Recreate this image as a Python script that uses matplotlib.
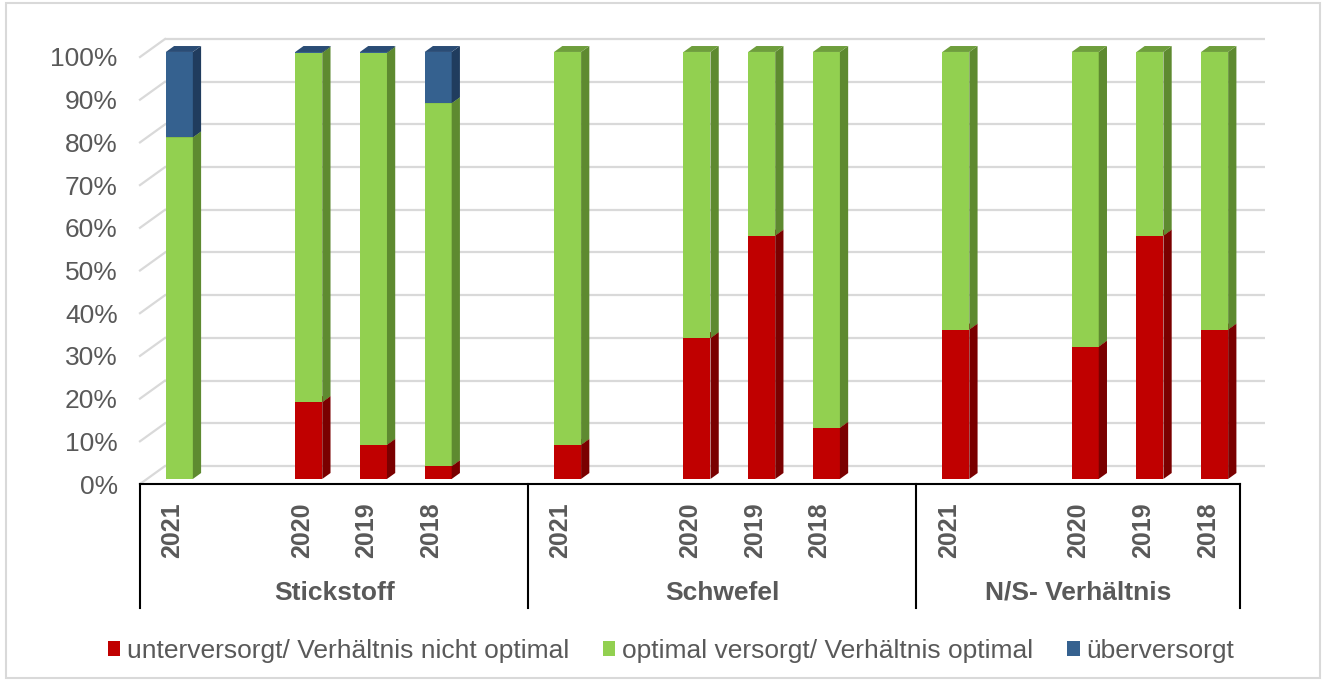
import matplotlib
matplotlib.use("Agg")
import matplotlib.pyplot as plt
from matplotlib.patches import Rectangle, Polygon, Patch

plt.rcParams['font.family'] = ['Liberation Sans', 'DejaVu Sans']

# ---- data ----
groups = ['Stickstoff', 'Schwefel', 'N/S- Verhältnis']
years = ['2021', '2020', '2019', '2018']
year_slots = [0, 2, 3, 4]          # slot index of each year inside a group (slot 1 empty)
series_names = ['unterversorgt/ Verhältnis nicht optimal',
                'optimal versorgt/ Verhältnis optimal',
                'überversorgt']
unterversorgt = [[0, 18, 8, 3], [8, 33, 57, 12], [35, 31, 57, 35]]
optimal = [[80, 81.8, 91.8, 85], [92, 67, 43, 88], [65, 69, 43, 65]]
ueberversorgt = [[20, 0.2, 0.2, 12], [0, 0, 0, 0], [0, 0, 0, 0]]
yticks = list(range(0, 101, 10))

front_cols = ['#C00000', '#92D050', '#35618F']
side_cols = ['#7A0000', '#5E8A30', '#203C5E']
top_cols = ['#9A0000', '#6E9E3C', '#2A4C75']
text_col = '#595959'

W, H = 1324, 680
fig = plt.figure(figsize=(W / 100, H / 100), dpi=100)
x0, x1, y0, y1 = 140, 1240, 484, 57
ax = fig.add_axes([x0 / W, 1 - y0 / H, (x1 - x0) / W, (y0 - y1) / H])
nslots = 17
ax.set_xlim(0, nslots)
ax.set_ylim(0, 100)
pxx = (x1 - x0) / nslots
pxy = (y0 - y1) / 100
DX = 25 / pxx   # depth offset in data units
DY = 18 / pxy

for s in ax.spines.values():
    s.set_visible(False)
ax.set_xticks([])
ax.set_yticks(yticks)
ax.set_yticklabels([f'{v}%' for v in yticks], fontsize=19, color=text_col)
ax.tick_params(axis='y', length=0, pad=16)

# back wall gridlines and left wall diagonals
for v in yticks:
    ax.plot([DX, nslots + DX], [v + DY, v + DY], color='#D9D9D9', lw=1.6,
            zorder=1, clip_on=False, solid_capstyle='butt')
    ax.plot([0, DX], [v, v + DY], color='#D9D9D9', lw=1.6, zorder=1, clip_on=False)

bw = 27 / pxx
d0, d1 = 0.28, 0.61
z = 3
for g in range(len(groups)):
    for j in range(len(years)):
        c = 6 * g + year_slots[j] + 0.5
        vals = [unterversorgt[g][j], optimal[g][j], ueberversorgt[g][j]]
        bottom = 0
        for k, v in enumerate(vals):
            if v <= 0:
                continue
            top = bottom + v
            xl = c - bw / 2 + DX * d0
            xr = c + bw / 2 + DX * d0
            yb = bottom + DY * d0
            yt = top + DY * d0
            ddx = DX * (d1 - d0)
            ddy = DY * (d1 - d0)
            ax.add_patch(Rectangle((xl, yb), xr - xl, yt - yb, facecolor=front_cols[k],
                                   edgecolor='none', zorder=z, clip_on=False))
            ax.add_patch(Polygon([(xr, yb), (xr + ddx, yb + ddy), (xr + ddx, yt + ddy), (xr, yt)],
                                 closed=True, facecolor=side_cols[k], edgecolor='none',
                                 zorder=z, clip_on=False))
            ax.add_patch(Polygon([(xl, yt), (xr, yt), (xr + ddx, yt + ddy), (xl + ddx, yt + ddy)],
                                 closed=True, facecolor=top_cols[k], edgecolor='none',
                                 zorder=z, clip_on=False))
            z += 0.01
            bottom = top

# category axis box
def ypx(p):
    return (y0 - p) / pxy

ax.plot([0, nslots], [0, 0], color='black', lw=1.5, clip_on=False, zorder=5)
for b in [0, 6, 12, 17]:
    ax.plot([b, b], [0, ypx(608)], color='black', lw=1.5, clip_on=False, zorder=5)

for g in range(len(groups)):
    for j in range(len(years)):
        c = 6 * g + year_slots[j] + 0.5
        ax.text(c, ypx(502), years[j], rotation=90, ha='center', va='top',
                fontsize=18, fontweight='bold', color=text_col, clip_on=False)
    gend = min(6 * g + 6, nslots)
    ax.text((6 * g + gend) / 2, ypx(593), groups[g], ha='center', va='center',
            fontsize=19, fontweight='bold', color=text_col, clip_on=False)

handles = [Patch(facecolor=front_cols[k], edgecolor='none', label=series_names[k]) for k in range(3)]
fig.legend(handles=handles, loc='center', bbox_to_anchor=(671 / W, 1 - 651 / H), ncol=3,
           frameon=False, fontsize=19, handlelength=0.46, handleheight=0.46,
           handletextpad=0.25, columnspacing=1.3, labelcolor=text_col, borderaxespad=0,
           borderpad=0)

# outer chart border
fig.patches.append(Rectangle((6 / W, 2 / H), 1314 / W, 675 / H, transform=fig.transFigure,
                             fill=False, edgecolor='#D9D9D9', lw=1.5))

fig.savefig('out.png', dpi=100)
